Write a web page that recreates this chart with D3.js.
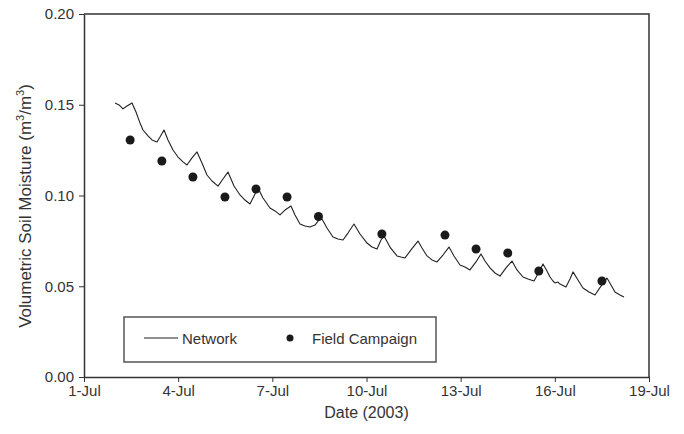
<!DOCTYPE html>
<html>
<head>
<meta charset="utf-8">
<script src="https://cdn.jsdelivr.net/npm/d3@7"></script>
<style>
  html, body { margin: 0; padding: 0; background: #fff; }
  svg { display: block; }
  text { font-family: "Liberation Sans", Arial, sans-serif; fill: #333; }
</style>
</head>
<body>
<svg id="chart" width="684" height="434"></svg>
<script>
// ---- Data (days since 1-Jul-2003 00:00) ----
const networkDay = [
  0.988, 1.115, 1.242, 1.370, 1.529, 1.657, 1.784, 1.880, 2.039, 2.166,
  2.326, 2.421, 2.549, 2.676, 2.835, 2.995, 3.154, 3.281, 3.441, 3.600,
  3.759, 3.918, 4.078, 4.269, 4.428, 4.587, 4.779, 4.970, 5.129, 5.288,
  5.416, 5.543, 5.702, 5.925, 6.085, 6.244, 6.403, 6.594, 6.722, 6.881,
  7.040, 7.200, 7.359, 7.486, 7.582, 7.741, 7.932, 8.092, 8.251, 8.410,
  8.601, 8.793, 9.016, 9.175, 9.334, 9.462, 9.557, 9.748, 9.971, 10.099,
  10.226, 10.417, 10.640, 10.768, 10.927, 11.086, 11.246, 11.437, 11.628, 11.787,
  11.978, 12.138, 12.297, 12.488, 12.647, 12.775, 12.934, 13.093, 13.253, 13.444,
  13.635, 13.794, 13.985, 14.144, 14.336, 14.495, 14.623, 14.750, 14.846, 14.941,
  15.005, 15.100, 15.164, 15.355, 15.483, 15.578, 15.738, 15.897, 16.088, 16.279,
  16.470, 16.661, 16.789, 16.916, 17.075, 17.203
];
const networkValue = [
  0.1510, 0.1499, 0.1477, 0.1493, 0.1510, 0.1460, 0.1399, 0.1361, 0.1328, 0.1306,
  0.1295, 0.1322, 0.1361, 0.1306, 0.1251, 0.1212, 0.1185, 0.1168, 0.1207, 0.1240,
  0.1179, 0.1113, 0.1080, 0.1052, 0.1091, 0.1129, 0.1052, 0.1003, 0.0975, 0.0953,
  0.0997, 0.1041, 0.0986, 0.0931, 0.0915, 0.0893, 0.0920, 0.0942, 0.0893, 0.0843,
  0.0832, 0.0826, 0.0837, 0.0865, 0.0871, 0.0821, 0.0771, 0.0760, 0.0755, 0.0793,
  0.0843, 0.0788, 0.0738, 0.0716, 0.0705, 0.0755, 0.0777, 0.0716, 0.0667, 0.0661,
  0.0656, 0.0700, 0.0749, 0.0711, 0.0667, 0.0645, 0.0634, 0.0672, 0.0716, 0.0667,
  0.0617, 0.0606, 0.0590, 0.0634, 0.0678, 0.0639, 0.0601, 0.0573, 0.0556, 0.0601,
  0.0639, 0.0590, 0.0551, 0.0540, 0.0529, 0.0579, 0.0623, 0.0584, 0.0551, 0.0529,
  0.0518, 0.0523, 0.0512, 0.0496, 0.0540, 0.0579, 0.0534, 0.0490, 0.0468, 0.0452,
  0.0501, 0.0545, 0.0507, 0.0468, 0.0452, 0.0441
];
const fieldDay = [1.47, 2.48, 3.47, 4.49, 5.48, 6.47, 7.47, 9.49, 11.50, 12.49, 13.50, 14.49, 16.50];
const fieldValue = [0.1306, 0.1190, 0.1102, 0.0992, 0.1036, 0.0992, 0.0884, 0.0788, 0.0782, 0.0705, 0.0683, 0.0584, 0.0529];
const xTickDays = [0, 3, 6, 9, 12, 15, 18];
const yTickValues = [0.00, 0.05, 0.10, 0.15, 0.20];
const legendLabels = ["Network", "Field Campaign"];

// ---- Setup ----
const base = new Date(2003, 6, 1);
const toDate = d => new Date(base.getTime() + d * 864e5);

const svg = d3.select("#chart");
const mLeft = 84, mRight = 649, mTop = 14, mBottom = 377;
const fs = 15;

const x = d3.scaleTime().domain([toDate(0), toDate(18)]).range([mLeft, mRight]);
const y = d3.scaleLinear().domain([0, 0.2]).range([mBottom, mTop]);

const axisColor = "#333";

// Frame (top and right)
svg.append("path")
  .attr("d", `M${mLeft},${mTop}H${mRight}V${mBottom}`)
  .attr("fill", "none").attr("stroke", axisColor).attr("stroke-width", 1.5);

// X axis
const xAxis = d3.axisBottom(x)
  .tickValues(xTickDays.map(toDate))
  .tickFormat(d3.timeFormat("%-d-%b"))
  .tickSize(5).tickSizeOuter(0);
const gx = svg.append("g").attr("transform", `translate(0,${mBottom})`).call(xAxis);
gx.select(".domain").attr("stroke", axisColor).attr("stroke-width", 1.5);
gx.selectAll(".tick line").attr("stroke", axisColor).attr("stroke-width", 1);
gx.selectAll(".tick text").attr("font-size", fs).attr("y", 8).attr("dy", "0.75em")
  .style("font-family", '"Liberation Sans", Arial, sans-serif').attr("fill", "#333");

// Y axis
const yAxis = d3.axisLeft(y)
  .tickValues(yTickValues)
  .tickFormat(d3.format(".2f"))
  .tickSize(5).tickSizeOuter(0);
const gy = svg.append("g").attr("transform", `translate(${mLeft},0)`).call(yAxis);
gy.select(".domain").attr("stroke", axisColor).attr("stroke-width", 1.5);
gy.selectAll(".tick line").attr("stroke", axisColor).attr("stroke-width", 1);
gy.selectAll(".tick text").attr("font-size", fs).attr("x", -10)
  .style("font-family", '"Liberation Sans", Arial, sans-serif').attr("fill", "#333");

// Axis titles
svg.append("text")
  .attr("x", (mLeft + mRight) / 2).attr("y", 418)
  .attr("text-anchor", "middle").attr("font-size", 16)
  .text("Date (2003)");

const yt = svg.append("text")
  .attr("transform", `translate(31,${206}) rotate(-90)`)
  .attr("text-anchor", "middle").attr("font-size", 17);
yt.append("tspan").text("Volumetric Soil Moisture (m");
yt.append("tspan").attr("font-size", 11).attr("dy", -7).text("3");
yt.append("tspan").attr("dy", 7).text("/m");
yt.append("tspan").attr("font-size", 11).attr("dy", -7).text("3");
yt.append("tspan").attr("dy", 7).text(")");

// Network line
const netData = networkDay.map((d, i) => ({ t: toDate(d), v: networkValue[i] }));
const line = d3.line().x(d => x(d.t)).y(d => y(d.v));
svg.append("path")
  .datum(netData)
  .attr("d", line)
  .attr("fill", "none").attr("stroke", "#222").attr("stroke-width", 1.1)
  .attr("stroke-linejoin", "round");

// Field campaign points
const fieldData = fieldDay.map((d, i) => ({ t: toDate(d), v: fieldValue[i] }));
svg.selectAll("circle.field")
  .data(fieldData).enter().append("circle")
  .attr("class", "field")
  .attr("cx", d => x(d.t)).attr("cy", d => y(d.v))
  .attr("r", 4.5).attr("fill", "#1a1a1a");

// Legend
const lg = svg.append("g");
lg.append("rect")
  .attr("x", 124).attr("y", 317).attr("width", 312).attr("height", 45)
  .attr("fill", "#fff").attr("stroke", "#555").attr("stroke-width", 1.5);
lg.append("line")
  .attr("x1", 144).attr("x2", 178).attr("y1", 338).attr("y2", 338)
  .attr("stroke", "#222").attr("stroke-width", 1);
lg.append("text").attr("x", 182).attr("y", 343.5).attr("font-size", fs).text(legendLabels[0]);
lg.append("circle").attr("cx", 290).attr("cy", 338).attr("r", 3.5).attr("fill", "#1a1a1a");
lg.append("text").attr("x", 312).attr("y", 343.5).attr("font-size", fs).text(legendLabels[1]);
</script>
</body>
</html>
